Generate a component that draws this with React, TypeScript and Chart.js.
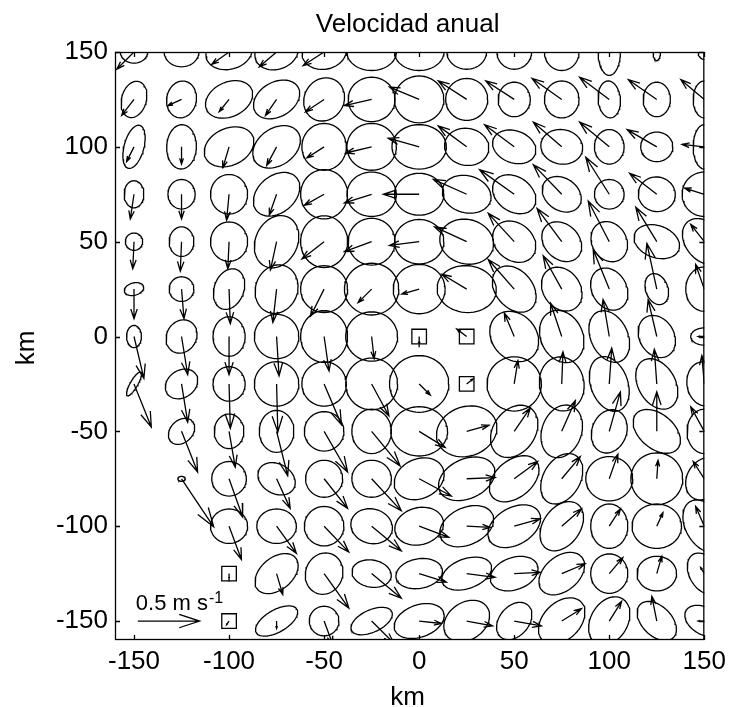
import React, { useEffect, useRef } from "react";
import { Chart, registerables } from "chart.js";

Chart.register(...registerables);

const FONT = "'Liberation Sans', Arial, Helvetica, sans-serif";
const TITLE = "Velocidad anual";
const X_TITLE = "km";
const Y_TITLE = "km";

// grid nodes (km)
const X_NODES = [-150, -125, -100, -75, -50, -25, 0, 25, 50, 75, 100, 125, 150];
const Y_NODES = [150, 125, 100, 75, 50, 25, 0, -25, -50, -75, -100, -125, -150];
const AXIS_TICKS = [-150, -100, -50, 0, 50, 100, 150];
const AXIS_MIN = -160;
const AXIS_MAX = 150;

// 1 cm/s drawn as 0.65 km (0.5 m/s reference arrow)
const KM_PER_CMS = 0.65;
const SCALE_SPEED = 50; // cm/s
const SCALE_LABEL = "0.5 m s";
const SCALE_EXP = "-1";
const SCALE_AT = { x: -148, y: -150 };

// variance ellipses: semi-major, semi-minor (cm/s) and orientation (deg), rows top->bottom
const MAJOR: (number | null)[][] = [
  [11, 14, 19, 18, 18, 20, 20, 16, 14, 15, 19, 7, 6],
  [15, 15, 20, 20, 18, 19, 20, 17, 14, 15, 15, 14, 15],
  [18, 18, 21, 21, 19, 20, 22, 18, 18, 17, 14, 13, 18],
  [11, 12, 16, 21, 20, 20, 20, 20, 19, 17, 12, 15, 18],
  [7, 12, 16, 22, 21, 19, 20, 22, 19, 18, 17, 19, 21],
  [8, 10, 17, 20, 19, 22, 21, 24, 21, 19, 18, 13, 18],
  [9, 14, 16, 18, 21, 21, null, null, 22, 22, 22, 18, 11],
  [11, 14, 14, 18, 18, 21, 24, null, 22, 22, 23, 22, 18],
  [null, 12, 14, 17, 16, 18, 23, 25, 23, 22, 18, 22, 18],
  [null, 3, 14, 16, 15, 16, 21, 24, 23, 22, 19, 21, 18],
  [null, null, 15, 16, 16, 17, 20, 23, 23, 22, 18, 20, 23],
  [null, null, null, 20, 17, 16, 19, 21, 20, 21, 16, 16, 18],
  [null, null, null, 19, 12, 18, 21, 20, 17, 22, 21, 19, 17],
];
const MINOR: (number | null)[][] = [
  [9, 12, 14, 14, 14, 15, 15, 14, 14, 14, 9, 3, 5],
  [10, 12, 14, 14, 16, 18, 19, 17, 13, 14, 9, 11, 9],
  [8, 12, 15, 15, 18, 19, 18, 15, 13, 14, 12, 12, 9],
  [8, 11, 15, 15, 19, 18, 17, 15, 14, 13, 12, 14, 18],
  [7, 10, 15, 17, 19, 19, 18, 18, 15, 14, 14, 13, 15],
  [5, 10, 12, 17, 19, 21, 20, 19, 15, 15, 14, 9, 15],
  [6, 12, 13, 18, 19, 20, null, null, 18, 17, 15, 14, 7],
  [3, 11, 13, 18, 18, 21, 23, null, 22, 18, 15, 15, 14],
  [null, 9, 12, 14, 16, 16, 20, 20, 17, 16, 14, 14, 14],
  [null, 2, 14, 12, 15, 15, 16, 16, 15, 15, 18, 21, 14],
  [null, null, 14, 14, 16, 14, 15, 15, 15, 15, 15, 18, 15],
  [null, null, null, 13, 15, 11, 12, 12, 13, 14, 15, 14, 12],
  [null, null, null, 9, 12, 9, 13, 15, 12, 15, 15, 12, 11],
];
const ANGLE: number[][] = [
  [0, 0, 15, 20, 10, 0, 0, 0, 0, 90, 90, 90, 90],
  [75, 80, 25, 30, 60, 0, 0, 0, 90, 90, 95, 90, 90],
  [75, 88, 25, 35, 90, 0, 0, -10, -20, -10, 90, 0, 90],
  [90, 90, 90, 40, 90, 0, 0, -15, -35, -35, 0, -10, 0],
  [90, 90, 90, 65, 90, 0, 0, -15, -40, -45, -60, -20, -50],
  [15, 0, 70, 70, 0, 0, 0, -5, -50, -55, -60, -70, 90],
  [90, 60, 90, 0, 90, 0, 0, 0, -50, -65, -65, -60, 0],
  [60, 35, 90, 0, 0, 0, 0, 0, 0, 100, 110, 120, 100],
  [0, 45, 90, 90, 0, 90, 0, 20, 55, 70, 70, -40, 90],
  [0, 0, 0, -30, 0, 0, 25, 25, 40, 60, 0, 0, 60],
  [0, 0, 0, 0, 0, -15, 15, 25, 30, 55, 90, 0, -60],
  [0, 0, 0, 40, 70, -10, 10, 20, 20, 40, 90, 0, -60],
  [0, 0, 0, 30, 0, 25, 20, 35, 50, 45, 60, -45, -30],
];

// mean velocity (cm/s), eastward U and northward V, rows top->bottom
const U: (number | null)[][] = [
  [-14, -2, -14, -14, -17, -18, -23, -23, -23, -23, -23, -22, -18],
  [-10, -11, -8, -9, -15, -22, -24, -23, -23, -24, -24, -23, -19],
  [-6, 0, -5, -8, -14, -21, -25, -23, -24, -23, -24, -24, -18],
  [-3, 0, -2, -6, -16, -22, -29, -27, -28, -23, -19, -22, -16],
  [-1, -1, -1, -5, -18, -22, -24, -26, -21, -20, -17, -17, -11],
  [0, 2, 1, -3, -11, -11, -14, -20, -21, -15, -13, -8, -7],
  [8, 5, 0, 2, 4, 2, null, null, -8, -9, -5, -7, -5],
  [14, 5, 1, 1, 14, 14, 9, null, 3, 1, 2, -2, -2],
  [null, 13, 5, 9, 19, 23, 21, 18, 13, 11, 9, 0, -11],
  [null, 26, 11, 11, 19, 24, 26, 23, 19, 15, 7, 1, -9],
  [null, null, 10, 16, 20, 24, 24, 19, 21, 16, 9, 5, -7],
  [null, null, null, 5, 20, 24, 22, 23, 21, 19, 11, 4, -3],
  [null, null, null, 0, 7, 18, 18, 21, 22, 16, 10, -4, -5],
];
const V: (number | null)[][] = [
  [-14, 2, -10, -12, -11, 5, 9, 14, 15, 17, 18, 15, 15],
  [-13, -5, -10, -13, -10, -5, 10, 15, 15, 17, 18, 16, 16],
  [-12, -14, -17, -15, -9, -5, 7, 17, 18, 20, 20, 14, 2],
  [-20, -20, -21, -17, -9, -7, 0, 12, 20, 24, 30, 17, 5],
  [-22, -24, -22, -23, -14, -8, -3, 12, 23, 27, 33, 28, 14],
  [-24, -24, -28, -27, -22, -11, -4, 12, 24, 27, 32, 37, 20],
  [-34, -31, -31, -32, -28, -18, null, null, 19, 27, 30, 30, 0],
  [-35, -31, -36, -39, -33, -26, -9, null, 19, 26, 29, 28, 23],
  [null, -33, -29, -36, -33, -28, -13, 5, 19, 25, 32, 32, 20],
  [null, -39, -31, -24, -24, -26, -14, 1, 14, 18, 20, 15, 14],
  [null, null, -27, -22, -21, -20, -9, -1, 6, 14, 14, 11, 16],
  [null, null, null, -17, -28, -20, -7, -3, 1, 8, 13, 14, 5],
  [null, null, null, -6, -19, -18, -2, -4, -4, 10, 16, 20, 0],
];

// mooring stations (squares) with their mean velocity (cm/s)
const STATION_X = [0, 25, 25, -100, -100];
const STATION_Y = [0, 0, -25, -125, -150];
const STATION_U = [0, -8, 5, 0, -2];
const STATION_V = [-6, 6, 4, -4, -3];

type P = { x: number; y: number };
const gap = (): P => ({ x: NaN, y: NaN });

function pushArrow(pts: P[], x: number, y: number, u: number, v: number) {
  const dx = u * KM_PER_CMS;
  const dy = v * KM_PER_CMS;
  const tx = x + dx;
  const ty = y + dy;
  const a = 0.33;
  const b = 0.33;
  pts.push({ x, y }, { x: tx, y: ty }, gap());
  pts.push(
    { x: tx - a * (dx + b * dy), y: ty - a * (dy - b * dx) },
    { x: tx, y: ty },
    { x: tx - a * (dx - b * dy), y: ty - a * (dy + b * dx) },
    gap()
  );
}

function pushEllipse(pts: P[], cx: number, cy: number, A: number, B: number, deg: number) {
  const th = (deg * Math.PI) / 180;
  const a = A * KM_PER_CMS;
  const b = B * KM_PER_CMS;
  const n = 60;
  for (let k = 0; k <= n; k++) {
    const t = (2 * Math.PI * k) / n;
    const ex = a * Math.cos(t);
    const ey = b * Math.sin(t);
    pts.push({ x: cx + ex * Math.cos(th) - ey * Math.sin(th), y: cy + ex * Math.sin(th) + ey * Math.cos(th) });
  }
  pts.push(gap());
}

function buildData() {
  const ellipses: P[] = [];
  const arrows: P[] = [];
  Y_NODES.forEach((y, r) => {
    X_NODES.forEach((x, c) => {
      const A = MAJOR[r][c];
      const B = MINOR[r][c];
      if (A != null && B != null) pushEllipse(ellipses, x, y, A, B, ANGLE[r][c]);
      const u = U[r][c];
      const v = V[r][c];
      if (u != null && v != null) pushArrow(arrows, x, y, u, v);
    });
  });
  STATION_X.forEach((x, i) => pushArrow(arrows, x, STATION_Y[i], STATION_U[i], STATION_V[i]));
  const stations: P[] = STATION_X.map((x, i) => ({ x, y: STATION_Y[i] }));
  const scaleArrow: P[] = [];
  pushArrow(scaleArrow, SCALE_AT.x, SCALE_AT.y, SCALE_SPEED, 0);
  return { ellipses, arrows, stations, scaleArrow };
}

const framePlugin = {
  id: "frame",
  afterDraw(chart: any) {
    const { ctx, chartArea: ca, scales } = chart;
    const xs = scales.x;
    const ys = scales.y;
    ctx.save();
    ctx.strokeStyle = "#000";
    ctx.lineWidth = 1.3;
    ctx.strokeRect(ca.left + 0.5, ca.top + 0.5, ca.right - ca.left - 1, ca.bottom - ca.top - 1);
    ctx.beginPath();
    const tl = 5;
    AXIS_TICKS.forEach((v) => {
      const px = Math.round(xs.getPixelForValue(v)) + 0.5;
      ctx.moveTo(px, ca.bottom);
      ctx.lineTo(px, ca.bottom - tl);
      ctx.moveTo(px, ca.top);
      ctx.lineTo(px, ca.top + tl);
      const py = Math.round(ys.getPixelForValue(v)) + 0.5;
      ctx.moveTo(ca.left, py);
      ctx.lineTo(ca.left + tl, py);
      ctx.moveTo(ca.right, py);
      ctx.lineTo(ca.right - tl, py);
    });
    ctx.stroke();

    ctx.fillStyle = "#000";
    ctx.font = `26px ${FONT}`;
    ctx.textAlign = "center";
    ctx.textBaseline = "alphabetic";
    const cx = (ca.left + ca.right) / 2 - 2;
    ctx.fillText(TITLE, cx, 32);
    ctx.fillText(X_TITLE, cx, 705);

    ctx.save();
    ctx.translate(34, (ca.top + ca.bottom) / 2 + 2);
    ctx.rotate(-Math.PI / 2);
    ctx.fillText(Y_TITLE, 0, 0);
    ctx.restore();

    // reference-arrow label
    const lx = xs.getPixelForValue(SCALE_AT.x) - 2;
    const ly = ys.getPixelForValue(SCALE_AT.y) - 11;
    ctx.textAlign = "left";
    ctx.font = `22px ${FONT}`;
    ctx.fillText(SCALE_LABEL, lx, ly);
    const w = ctx.measureText(SCALE_LABEL).width;
    ctx.font = `16px ${FONT}`;
    ctx.fillText(SCALE_EXP, lx + w + 1, ly - 7);
    ctx.restore();
  },
};

export default function App() {
  const ref = useRef<HTMLCanvasElement | null>(null);
  useEffect(() => {
    if (!ref.current) return;
    const d = buildData();
    const lineStyle = {
      showLine: true,
      borderColor: "#000",
      borderWidth: 1.3,
      pointRadius: 0,
      fill: false,
      spanGaps: false,
    };
    const chart = new Chart(ref.current, {
      type: "scatter",
      data: {
        datasets: [
          { ...lineStyle, data: d.ellipses } as any,
          { ...lineStyle, data: d.arrows } as any,
          {
            data: d.stations,
            showLine: false,
            pointStyle: "rect",
            pointRadius: 10.3,
            pointBorderWidth: 1.3,
            pointBorderColor: "#000",
            pointBackgroundColor: "rgba(0,0,0,0)",
          } as any,
          { ...lineStyle, data: d.scaleArrow } as any,
        ],
      },
      options: {
        responsive: false,
        animation: false,
        devicePixelRatio: 1,
        events: [],
        layout: { padding: { top: 52, right: 26, left: 0, bottom: 0 } },
        plugins: { legend: { display: false }, tooltip: { enabled: false }, title: { display: false } },
        scales: {
          x: {
            type: "linear",
            position: "bottom",
            min: AXIS_MIN,
            max: AXIS_MAX,
            grid: { display: false, drawTicks: false },
            border: { display: false },
            ticks: { color: "#000", font: { family: FONT, size: 26 }, padding: 6, autoSkip: false, maxRotation: 0 },
            afterBuildTicks: (s: any) => {
              s.ticks = AXIS_TICKS.map((value) => ({ value }));
            },
            afterFit: (s: any) => {
              s.height = 67;
            },
          },
          y: {
            type: "linear",
            position: "left",
            min: AXIS_MIN,
            max: AXIS_MAX,
            grid: { display: false, drawTicks: false },
            border: { display: false },
            ticks: { color: "#000", font: { family: FONT, size: 26 }, padding: 7, autoSkip: false },
            afterBuildTicks: (s: any) => {
              s.ticks = AXIS_TICKS.map((value) => ({ value }));
            },
            afterFit: (s: any) => {
              s.width = 115;
            },
          },
        },
      } as any,
      plugins: [framePlugin],
    });
    return () => chart.destroy();
  }, []);
  return (
    <div style={{ position: "fixed", left: 0, top: 0, width: 732, height: 707, background: "#fff" }}>
      <canvas ref={ref} width={732} height={707} style={{ display: "block", width: 732, height: 707 }} />
    </div>
  );
}
